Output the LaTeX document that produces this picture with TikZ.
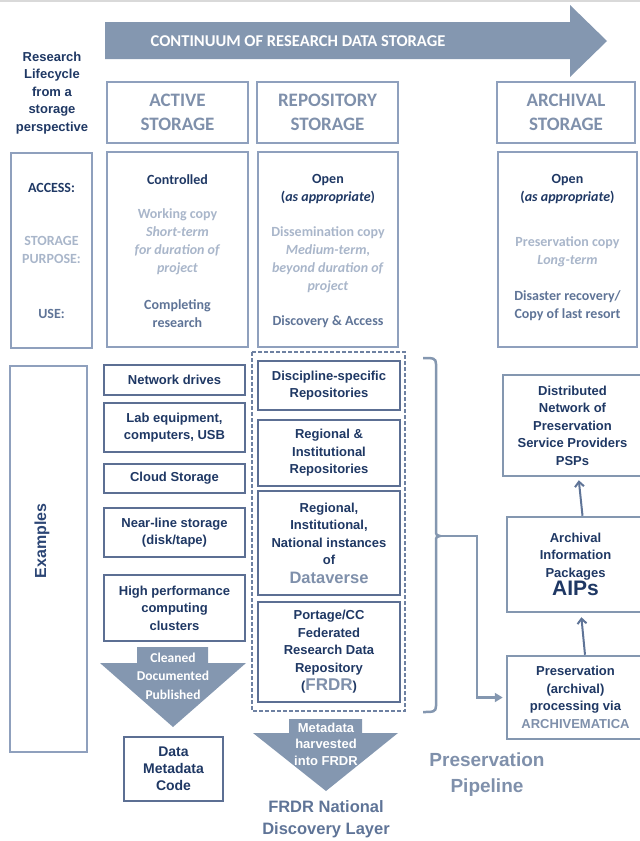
\documentclass[tikz,border=0pt]{standalone}
\usepackage{fontspec}
\setmainfont{Liberation Sans}
\newfontfamily\carl{Carlito}
\usetikzlibrary{arrows.meta}
\definecolor{navy}{HTML}{1F3864}
\definecolor{arrc}{HTML}{8497B0}
\definecolor{hdrtext}{HTML}{7F90AB}
\definecolor{lighttxt}{HTML}{A9B6CA}
\definecolor{midtxt}{HTML}{5F7497}
\definecolor{thinc}{HTML}{8FA0BD}
\definecolor{thickc}{HTML}{5C6F93}
\definecolor{dashc}{HTML}{6E81A2}
\definecolor{gv}{HTML}{7F90AB}
\definecolor{exnavy}{HTML}{2C4675}
\begin{document}
\begin{tikzpicture}[x=1pt,y=-1pt,
  thinbox/.style={draw=thinc,line width=1.8pt,inner sep=0pt},
  hdrbox/.style={thinbox,align=center,text=hdrtext,font=\carl\bfseries\fontsize{19}{24}\selectfont},
  rowtxt/.style={align=center,inner sep=0pt,font=\carl\bfseries\fontsize{14}{18}\selectfont},
  thickbox/.style={draw=thickc,line width=2.8pt,fill=white,inner sep=0pt,align=center,text=navy,font=\bfseries\fontsize{13}{17.5}\selectfont},
  sidebox/.style={draw=arrc,line width=2.5pt,fill=white,inner sep=0pt,align=center,text=navy,font=\bfseries\fontsize{13}{17.5}\selectfont},
  conn/.style={draw=arrc,line width=2.6pt,-{Triangle[length=8pt,width=9pt]}},
  uparr/.style={draw=midtxt,line width=2pt,-{Straight Barb[length=5pt,width=9pt]}},
  arrtxt/.style={align=center,inner sep=0pt,text=white}
]
\useasboundingbox (0,0) rectangle (640,841);
\draw[draw=black!15,line width=1.5pt] (0,0.75) -- (640,0.75);

% big continuum arrow
\fill[arrc] (105,22) -- (570,22) -- (570,5) -- (607,41) -- (570,77) -- (570,59) -- (105,59) -- cycle;
\node[inner sep=0pt,text=white,font=\carl\bfseries\fontsize{16.5}{20}\selectfont] (cont) at (298,41) {CONTINUUM OF RESEARCH DATA STORAGE};

% left title
\node[align=center,inner sep=0pt,text=navy,font=\bfseries\fontsize{13}{17.5}\selectfont] (life) at (52,93) {Research\\Lifecycle\\from a\\storage\\perspective};

% headers
\node[hdrbox,minimum width=141pt,minimum height=61pt] (hA) at (177.5,112.5) {ACTIVE\\STORAGE};
\node[hdrbox,minimum width=141pt,minimum height=61pt] (hR) at (327.5,112.5) {REPOSITORY\\STORAGE};
\node[hdrbox,minimum width=138pt,minimum height=61pt] (hV) at (566,112.5) {ARCHIVAL\\STORAGE};

% row boxes
\node[thinbox,minimum width=81pt,minimum height=195pt] (lab) at (51.5,250.5) {};
\node[thinbox,minimum width=141pt,minimum height=195pt] (ac) at (177.5,249.5) {};
\node[thinbox,minimum width=140pt,minimum height=195pt] (rp) at (328,249.5) {};
\node[thinbox,minimum width=139pt,minimum height=195pt] (av) at (567.5,249.5) {};

\node[rowtxt,text=navy] (lacc) at (51.5,188) {ACCESS:};
\node[rowtxt,text=lighttxt] (lpur) at (51.5,250) {STORAGE\\PURPOSE:};
\node[rowtxt,text=midtxt] (luse) at (51.5,314) {USE:};

\node[rowtxt,text=navy] (acacc) at (177.5,180) {Controlled};
\node[rowtxt,text=lighttxt] (acpur) at (177.5,242) {Working copy\\\textit{Short-term}\\\textit{for duration of}\\\textit{project}};
\node[rowtxt,text=midtxt] (acuse) at (177.5,313.5) {Completing\\research};

\node[rowtxt,text=navy] (rpacc) at (328,189) {Open\\(\textit{as appropriate})};
\node[rowtxt,text=lighttxt] (rppur) at (328,260) {Dissemination copy\\\textit{Medium-term,}\\\textit{beyond duration of}\\\textit{project}};
\node[rowtxt,text=midtxt] (rpuse) at (328,322) {Discovery \& Access};

\node[rowtxt,text=navy] (avacc) at (567.5,189) {Open\\(\textit{as appropriate})};
\node[rowtxt,text=lighttxt] (avpur) at (567.5,252) {Preservation copy\\\textit{Long-term}};
\node[rowtxt,text=midtxt] (avuse) at (567.5,306) {Disaster recovery/\\Copy of last resort};

% examples
\node[thinbox,minimum width=77pt,minimum height=386pt] (exbox) at (48.5,559) {};
\node[rotate=90,inner sep=0pt,text=exnavy,font=\bfseries\fontsize{16}{19}\selectfont] (extxt) at (42,541) {Examples};

\node[thickbox,minimum width=141pt,minimum height=30pt] (nd) at (174.5,380) {Network drives};
\node[thickbox,minimum width=141pt,minimum height=49pt] (leq) at (174.5,427.5) {Lab equipment,\\computers, USB};
\node[thickbox,minimum width=141pt,minimum height=29pt] (cs) at (174.5,478.5) {Cloud Storage};
\node[thickbox,minimum width=141pt,minimum height=49pt] (nl) at (174.5,532.5) {Near-line storage\\(disk/tape)};
\node[thickbox,minimum width=141pt,minimum height=66pt] (hpc) at (174.5,608) {High performance\\computing\\clusters};

% cleaned arrow
\fill[arrc] (137,647) -- (208,647) -- (208,663) -- (246,663) -- (173,727) -- (100,663) -- (137,663) -- cycle;
\node[arrtxt,font=\carl\bfseries\fontsize{13.5}{18.5}\selectfont] (cdp) at (173,676) {Cleaned\\Documented\\Published};

\node[thickbox,line width=2.4pt,minimum width=99pt,minimum height=64pt,font=\bfseries\fontsize{14}{17}\selectfont] (dmc) at (173.5,769) {Data\\Metadata\\Code};

% repository container
\draw[draw=dashc,line width=1.4pt,dash pattern=on 4pt off 2pt] (252,352) rectangle (405,711);
\node[thickbox,minimum width=142pt,minimum height=49pt] (ds) at (329,385.5) {Discipline-specific\\Repositories};
\node[thickbox,minimum width=142pt,minimum height=66pt] (ri) at (329,453) {Regional \&\\Institutional\\Repositories};
\node[thickbox,minimum width=142pt,minimum height=104pt] (dv) at (329,543) {Regional,\\Institutional,\\National instances\\of\\[1pt]{\fontsize{16.5}{18}\selectfont\color{gv}Dataverse}};
\node[thickbox,minimum width=142pt,minimum height=100pt] (fr) at (329,652) {Portage/CC\\Federated\\Research Data\\Repository\\[1pt]({\fontsize{17}{18}\selectfont\color{gv}FRDR})};

% metadata arrow
\fill[arrc] (289,719) -- (362,719) -- (362,733) -- (398,733) -- (326,791) -- (253,733) -- (289,733) -- cycle;
\node[arrtxt,font=\bfseries\fontsize{13}{16.5}\selectfont] (mh) at (326,744) {Metadata\\harvested\\into FRDR};
\node[align=center,inner sep=0pt,text=midtxt,font=\bfseries\fontsize{16.5}{22}\selectfont] (ndl) at (326,819) {FRDR National\\Discovery Layer};

% brace
\draw[draw=arrc,line width=2.5pt] (423,358) .. controls (433,358) and (436,358) .. (436,364) -- (436,531) .. controls (436,535) and (437,536) .. (440,536) .. controls (437,536) and (436,537) .. (436,541) -- (436,706) .. controls (436,712) and (433,712) .. (423,712);
\coordinate (btip) at (438,536);
\coordinate (bend) at (477,536);

% archival side
\node[sidebox,minimum width=139pt,minimum height=101pt] (dn) at (572.5,425.5) {Distributed\\Network of\\Preservation\\Service Providers\\PSPs};
\node[sidebox,minimum width=137pt,minimum height=95pt] (aip) at (575.5,564.5) {Archival\\Information\\Packages\\[1pt]{\fontsize{21}{22}\selectfont AIPs}};
\node[sidebox,minimum width=137pt,minimum height=83pt] (pp) at (575.5,697.5) {Preservation\\(archival)\\processing via\\{\color{gv}ARCHIVEMATICA}};

\draw[conn,shorten >=3pt] (btip) -- (bend) |- (pp.west);
\draw[uparr,shorten >=3pt] ([xshift=7pt]aip.north) -- ([xshift=6pt]dn.south);
\draw[uparr,shorten >=4pt] ([xshift=9.5pt]pp.north) -- ([xshift=5.5pt]aip.south);

\node[align=center,inner sep=0pt,text=hdrtext,font=\bfseries\fontsize{19}{26}\selectfont] (ppl) at (487,775) {Preservation\\Pipeline};
\end{tikzpicture}
\end{document}
